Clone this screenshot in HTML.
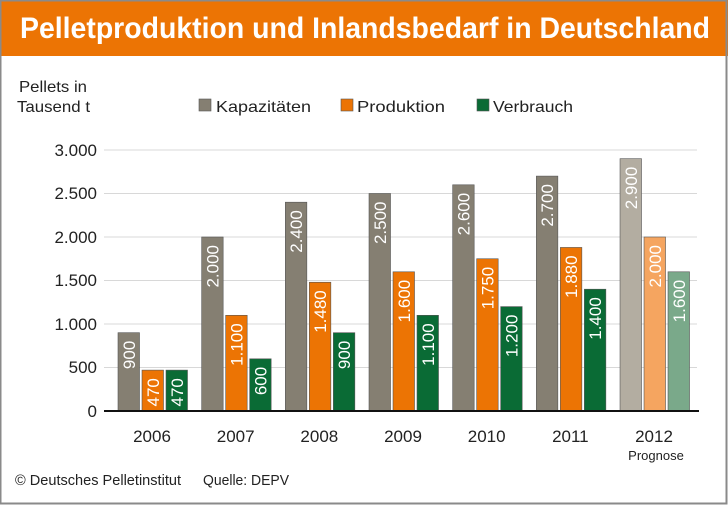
<!DOCTYPE html>
<html><head><meta charset="utf-8"><style>
html,body{margin:0;padding:0;background:#fff}
svg{display:block}
text{font-family:"Liberation Sans",sans-serif}
</style></head><body>
<svg width="728" height="505" viewBox="0 0 728 505" xmlns="http://www.w3.org/2000/svg">
<rect x="0" y="0" width="728" height="505" fill="#fff"/>
<rect x="0" y="0" width="728" height="56" fill="#ec7404"/>
<rect x="0.5" y="0.5" width="726" height="503" fill="none" stroke="#8a8a8a" stroke-width="2"/>
<text x="20" y="38" textLength="690" lengthAdjust="spacingAndGlyphs" font-size="30" font-weight="bold" fill="#fff">Pelletproduktion und Inlandsbedarf in Deutschland</text>
<text x="19" y="92" font-size="16" fill="#222" textLength="68" lengthAdjust="spacingAndGlyphs">Pellets in</text>
<text x="17" y="112" font-size="16" fill="#222" textLength="73" lengthAdjust="spacingAndGlyphs">Tausend t</text>
<rect x="199" y="99" width="12" height="12" fill="#857f72" stroke="#555" stroke-width="0.6"/>
<text x="216" y="112" font-size="16" fill="#222" textLength="95" lengthAdjust="spacingAndGlyphs">Kapazitäten</text>
<rect x="341" y="99" width="12" height="12" fill="#ec7404" stroke="#555" stroke-width="0.6"/>
<text x="357" y="112" font-size="16" fill="#222" textLength="88" lengthAdjust="spacingAndGlyphs">Produktion</text>
<rect x="477" y="99" width="12" height="12" fill="#0a6b35" stroke="#555" stroke-width="0.6"/>
<text x="493" y="112" font-size="16" fill="#222" textLength="80" lengthAdjust="spacingAndGlyphs">Verbrauch</text>
<g stroke="#d8d8d8" stroke-width="1">
<line x1="104" x2="697" y1="150" y2="150"/>
<line x1="104" x2="697" y1="193.5" y2="193.5"/>
<line x1="104" x2="697" y1="237" y2="237"/>
<line x1="104" x2="697" y1="280.5" y2="280.5"/>
<line x1="104" x2="697" y1="324" y2="324"/>
<line x1="104" x2="697" y1="367.5" y2="367.5"/>
</g>
<g font-size="17" fill="#222" text-anchor="end">
<text x="97" y="156">3.000</text>
<text x="97" y="199">2.500</text>
<text x="97" y="243">2.000</text>
<text x="97" y="286">1.500</text>
<text x="97" y="330">1.000</text>
<text x="97" y="373">500</text>
<text x="97" y="417">0</text>
</g>
<g id="bars"></g>
<line x1="104" x2="699" y1="411" y2="411" stroke="#111" stroke-width="2"/>
<g font-size="17" fill="#222" text-anchor="middle" id="years"></g>
<text x="656" y="460" font-size="13" fill="#222" text-anchor="middle">Prognose</text>
<text x="15" y="485" font-size="15" fill="#222" textLength="166" lengthAdjust="spacingAndGlyphs">© Deutsches Pelletinstitut</text>
<text x="203" y="485" font-size="15" fill="#222" textLength="86" lengthAdjust="spacingAndGlyphs">Quelle: DEPV</text>
<script>
var d=[[900,470,470],[2000,1100,600],[2400,1480,900],[2500,1600,1100],[2600,1750,1200],[2700,1880,1400],[2900,2000,1600]];
var lab=[["900","470","470"],["2.000","1.100","600"],["2.400","1.480","900"],["2.500","1.600","1.100"],["2.600","1.750","1.200"],["2.700","1.880","1.400"],["2.900","2.000","1.600"]];
var col=["#857f72","#ec7404","#0a6b35"],col2=["#b3ada1","#f5a560","#7aa98a"];
var g=document.getElementById('bars'),yg=document.getElementById('years'),ns="http://www.w3.org/2000/svg";
for(var i=0;i<7;i++){var x0=118+i*83.67;
for(var j=0;j<3;j++){var x=x0+j*24,h=d[i][j]*261/3000,y=411-h;
var r=document.createElementNS(ns,'rect');r.setAttribute('x',x);r.setAttribute('y',y);r.setAttribute('width',21.5);r.setAttribute('height',h);
r.setAttribute('fill',i==6?col2[j]:col[j]);r.setAttribute('stroke','#555');r.setAttribute('stroke-width','0.6');g.appendChild(r);
var t=document.createElementNS(ns,'text');var cx=x+10.75+6,cy=y+8;
t.setAttribute('transform','translate('+cx+','+cy+') rotate(-90)');t.setAttribute('text-anchor','end');t.setAttribute('font-size','17');t.setAttribute('fill','#fff');t.textContent=lab[i][j];g.appendChild(t);}
var yt=document.createElementNS(ns,'text');yt.setAttribute('x',x0+34);yt.setAttribute('y',442);yt.textContent=2006+i;yg.appendChild(yt);}
</script>
</svg>
</body></html>
